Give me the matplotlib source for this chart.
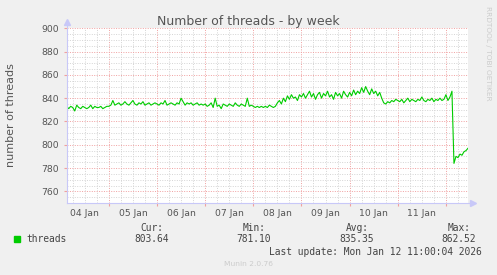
import matplotlib
matplotlib.use("Agg")
import matplotlib.pyplot as plt
import matplotlib.patches as patches
from matplotlib.ticker import MultipleLocator, FuncFormatter
import numpy as np

# hourly samples, first one at 04 Jan 03:00, last at 12 Jan 11:00
start_hour = 3
threads = [
    # 04 Jan
    833, 831, 833, 832, 829, 834, 832, 831, 833, 832, 831, 832, 834, 831, 833, 832, 832, 833, 831, 832, 833,
    # 05 Jan
    833, 834, 838, 834, 835, 836, 834, 835, 837, 835, 834, 836, 838, 835, 834, 836, 835, 837, 834, 835, 836, 834, 835, 836,
    # 06 Jan
    835, 834, 836, 835, 838, 834, 835, 836, 835, 834, 836, 835, 840, 837, 834, 836, 835, 836, 834, 835, 836, 834, 835, 834,
    # 07 Jan
    835, 833, 834, 836, 832, 840, 833, 834, 831, 835, 834, 833, 835, 834, 833, 836, 834, 833, 835, 834, 833, 840, 833, 834,
    # 08 Jan
    833, 832, 833, 832, 833, 832, 833, 832, 834, 833, 832, 833, 836, 838, 835, 840, 837, 842, 839, 843, 840, 841, 838, 843,
    # 09 Jan
    841, 844, 840, 843, 846, 841, 844, 839, 843, 845, 840, 844, 842, 846, 841, 843, 839, 845, 842, 844, 840, 846, 843, 841,
    # 10 Jan
    845, 842, 847, 843, 846, 844, 849, 845, 850, 846, 843, 848, 844, 846, 842, 845, 840, 836, 835, 837, 836, 838, 837, 839,
    # 11 Jan
    838, 837, 839, 836, 838, 840, 837, 839, 838, 837, 839, 838, 841, 838, 837, 839, 838, 840, 837, 839, 838, 840, 838, 839,
    # 12 Jan
    843, 838, 841, 846, 784, 790, 789, 792, 791, 794, 795, 797,
]
day_labels = ["04 Jan", "05 Jan", "06 Jan", "07 Jan", "08 Jan", "09 Jan", "10 Jan", "11 Jan", "12 Jan"]
stat_names = ["Cur:", "Min:", "Avg:", "Max:"]
stat_values = ["803.64", "781.10", "835.35", "862.52"]
last_update = "Last update: Mon Jan 12 11:00:04 2026"

W, H = 497, 275
fig = plt.figure(figsize=(W / 100, H / 100), dpi=100)
fig.patch.set_facecolor("#f0f0f0")

def fx(px):
    return px / W

def fy(py):
    return 1 - py / H

left, right, top, bottom = 66.7, 468, 28.3, 203
ax = fig.add_axes([fx(left), fy(bottom), fx(right - left), (bottom - top) / H])
ax.set_facecolor("white")

days = (start_hour + np.arange(len(threads))) / 24.0
ax.plot(days, threads, color="#00cc00", lw=0.8, zorder=3)

ax.set_xlim(3 / 24, 203 / 24)
ax.set_ylim(750, 900)

# grid: red at midnight / every 20, grey every 6 h / every 5
ax.xaxis.set_major_locator(MultipleLocator(1))
ax.xaxis.set_minor_locator(MultipleLocator(0.25))
ax.yaxis.set_major_locator(MultipleLocator(20))
ax.yaxis.set_minor_locator(MultipleLocator(5))

def day_fmt(v, pos):
    frac = v % 1
    if abs(frac - 0.5) < 1e-6:
        i = int(v)
        if 0 <= i < len(day_labels):
            return day_labels[i]
    return ""

ax.xaxis.set_major_formatter(FuncFormatter(lambda v, p: ""))
ax.xaxis.set_minor_formatter(FuncFormatter(day_fmt))
ax.set_yticks([760, 780, 800, 820, 840, 860, 880, 900])

ax.grid(which="minor", color="#d4d4d4", lw=0.7, ls=(0, (1, 1.5)), zorder=1)
ax.grid(which="major", color="#f0a0a0", lw=0.7, ls=(0, (1, 1.5)), zorder=2)
ax.tick_params(axis="x", which="major", length=2, color="#f0a0a0", labelsize=6.7)
ax.tick_params(axis="x", which="minor", length=0, pad=4, labelsize=6.7, labelcolor="#555555")
ax.tick_params(axis="y", which="major", length=2, color="#f0a0a0", pad=3.5, labelsize=6.7, labelcolor="#555555")
ax.tick_params(axis="y", which="minor", length=0)

for s in ax.spines.values():
    s.set_visible(False)

# axis lines with arrows
axis_col = "#c8c8f8"
ax.plot([0, 0], [0, 1.035], transform=ax.transAxes, color=axis_col, lw=0.8, clip_on=False, zorder=4)
ax.plot([0, 1.012], [0, 0], transform=ax.transAxes, color=axis_col, lw=0.8, clip_on=False, zorder=4)
ax.plot([0], [1.035], transform=ax.transAxes, marker="^", ms=4, color=axis_col, clip_on=False, zorder=4)
ax.plot([1.012], [0], transform=ax.transAxes, marker=">", ms=4, color=axis_col, clip_on=False, zorder=4)

fig.text(fx(248), fy(24.5), "Number of threads - by week", ha="center", va="baseline",
         fontsize=9, color="#555555")
fig.text(fx(11), fy(115), "number of threads", rotation=90, ha="center", va="center",
         fontsize=8, color="#555555")
fig.text(fx(488), fy(53), "RRDTOOL / TOBI OETIKER", rotation=270, ha="center", va="center",
         fontsize=5.3, color="#cccccc")

# legend
fig.add_artist(patches.Rectangle((fx(14), fy(242)), fx(6), 6 / H, transform=fig.transFigure,
                                 color="#00cc00"))
mono = "DejaVu Sans Mono"
fig.text(fx(26.7), fy(239), "threads", family=mono, fontsize=6.9, color="#444444", va="center")
for cx, name, val in zip([152, 254, 357, 459], stat_names, stat_values):
    fig.text(fx(cx), fy(228), name, family=mono, fontsize=6.9, color="#444444", ha="center", va="center")
    fig.text(fx(cx), fy(239), val, family=mono, fontsize=6.9, color="#444444", ha="center", va="center")
fig.text(fx(482), fy(251.7), last_update, family=mono, fontsize=6.9, color="#444444",
         ha="right", va="center")
fig.text(fx(248), fy(264), "Munin 2.0.76", fontsize=5.4, color="#cccccc", ha="center", va="center")

fig.savefig("out.png", dpi=100, facecolor=fig.get_facecolor())
